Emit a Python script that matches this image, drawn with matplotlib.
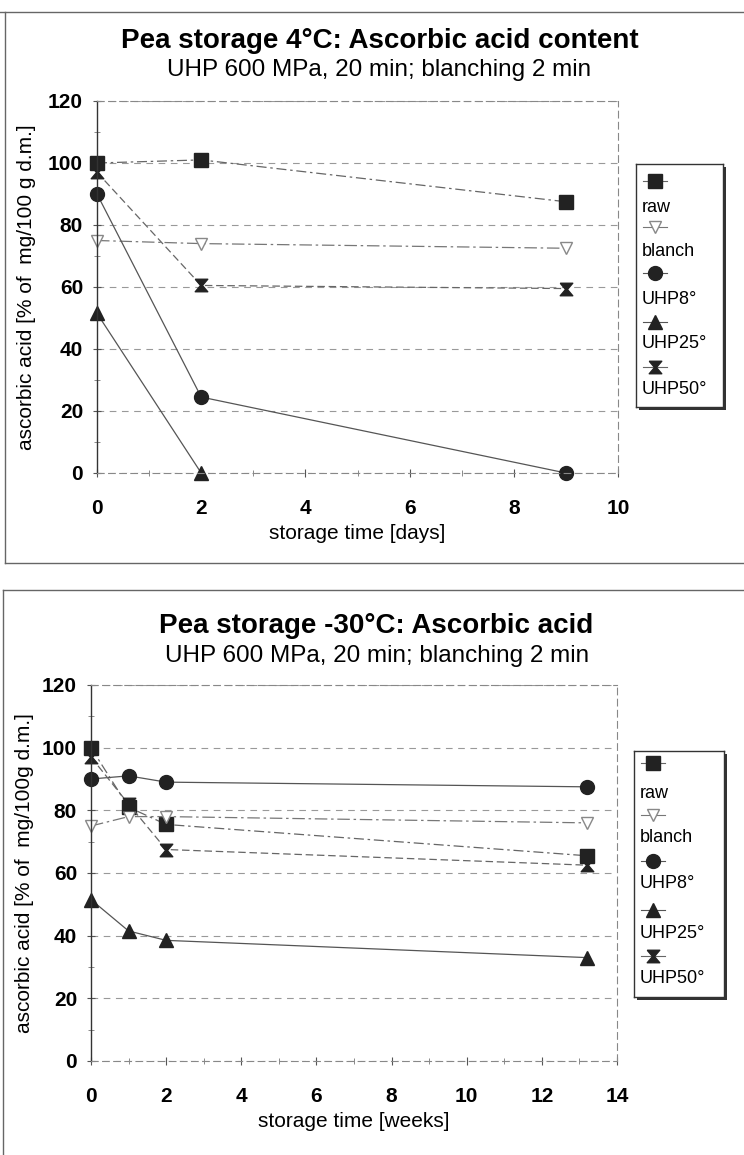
import matplotlib
matplotlib.use('Agg')
import matplotlib.pyplot as plt
from matplotlib.lines import Line2D
from matplotlib.patches import Rectangle
from matplotlib.ticker import MultipleLocator

plt.rcParams['font.family'] = ['Liberation Sans', 'DejaVu Sans']

W, H = 744, 1155

# ---- data: 4 C storage (days)
days = [0, 2, 9]
raw_4 = [100, 101, 87.5]
blanch_4 = [75, 74, 72.5]
uhp8_4 = [90, 24.5, 0]
uhp25_days = [0, 2]
uhp25_4 = [51.5, 0]
uhp50_4 = [97, 60.5, 59.5]

# ---- data: -30 C storage (weeks)
weeks = [0, 1, 2, 13.2]
raw_30 = [100, 81, 75.5, 65.5]
blanch_30 = [75, 78, 78, 76]
uhp8_30 = [90, 91, 89, 87.5]
uhp25_30 = [51.5, 41.5, 38.5, 33]
uhp50_30 = [97, 82, 67.5, 62.5]

series_names = ['raw', 'blanch', 'UHP8°', 'UHP25°', 'UHP50°']

hourglass = [(-1, 1), (1, 1), (0.15, 0), (1, -1), (-1, -1), (-0.15, 0), (-1, 1)]

styles = {
    'raw':    dict(marker='s', ms=9.5, mfc='#222222', mec='#222222', color='#666666', ls=(0, (8, 3, 2, 3))),
    'blanch': dict(marker='v', ms=9, mfc='white', mec='#888888', color='#777777', ls=(0, (10, 3, 2, 3))),
    'UHP8°':  dict(marker='o', ms=10, mfc='#222222', mec='#222222', color='#555555', ls='-'),
    'UHP25°': dict(marker='^', ms=10, mfc='#222222', mec='#222222', color='#555555', ls='-'),
    'UHP50°': dict(marker=hourglass, ms=9, mfc='#222222', mec='#222222', color='#666666', ls=(0, (6, 3))),
}

fig = plt.figure(figsize=(W / 100, H / 100), dpi=100)


def fx(px):
    return px / W


def fy(py):
    return 1 - py / H


def style_axes(ax, xmax, xlabel, ylabel, label_x):
    ax.set_xlim(0, xmax)
    ax.set_ylim(0, 120)
    ax.xaxis.set_major_locator(MultipleLocator(2))
    ax.xaxis.set_minor_locator(MultipleLocator(1))
    ax.yaxis.set_major_locator(MultipleLocator(20))
    ax.yaxis.set_minor_locator(MultipleLocator(10))
    ax.tick_params(which='major', direction='inout', length=6, width=0.8, color='#555555',
                   labelsize=15, pad=7)
    ax.tick_params(axis='x', which='major', pad=16)
    ax.tick_params(which='minor', direction='inout', length=4, width=0.6, color='#777777')
    for lab in ax.get_xticklabels() + ax.get_yticklabels():
        lab.set_fontweight('bold')
    ax.grid(axis='y', which='major', color='#999999', lw=0.8, ls=(0, (6, 5)))
    for s in ['top', 'right', 'bottom']:
        ax.spines[s].set_color('#888888')
        ax.spines[s].set_linestyle((0, (6, 4)))
        ax.spines[s].set_linewidth(0.8)
    ax.spines['left'].set_color('#333333')
    ax.spines['left'].set_linewidth(1.0)
    ax.set_xlabel(xlabel, fontsize=15, labelpad=4)
    ax.set_ylabel(ylabel, fontsize=15)
    ax.yaxis.set_label_coords(label_x, 0.5)


def legend_box(x0, y0, x1, y1, marker_y, text_y):
    # shadow
    fig.patches.append(Rectangle((fx(x0 + 3), fy(y1 + 3)), fx(x1 - x0), (y1 - y0) / H,
                                 transform=fig.transFigure, facecolor='#333333',
                                 edgecolor='none', zorder=1))
    lax = fig.add_axes([fx(x0), fy(y1), fx(x1 - x0), (y1 - y0) / H], zorder=2)
    lax.set_xlim(x0, x1)
    lax.set_ylim(y1, y0)
    lax.set_xticks([])
    lax.set_yticks([])
    for s in lax.spines.values():
        s.set_color('#333333')
        s.set_linewidth(1.0)
    for name, my, ty in zip(series_names, marker_y, text_y):
        st = dict(styles[name])
        st['ls'] = '-'
        lax.plot([x0 + 7, x0 + 19, x0 + 31], [my, my, my], markevery=[1], lw=0.8, **st)
        lax.text(x0 + 6, ty, name, fontsize=13, va='center', ha='left')


def frame_line(xs, ys):
    fig.lines.append(Line2D([fx(x) for x in xs], [fy(y) for y in ys], transform=fig.transFigure,
                            color='#666666', lw=1.0))


# ---- top chart
frame_line([0, 744], [12, 12])
frame_line([5, 5], [12, 563])
frame_line([5, 744], [563, 563])
fig.text(fx(380), fy(41), 'Pea storage 4°C: Ascorbic acid content', fontsize=20,
         fontweight='bold', ha='center', va='center')
fig.text(fx(379), fy(70), 'UHP 600 MPa, 20 min; blanching 2 min', fontsize=17.5,
         ha='center', va='center')

ax1 = fig.add_axes([fx(97), fy(473), fx(618 - 97), (473 - 101) / H])
ax1.plot(days, raw_4, lw=0.9, **styles['raw'])
ax1.plot(days, blanch_4, lw=0.9, **styles['blanch'])
ax1.plot(days, uhp8_4, lw=0.9, **styles['UHP8°'])
ax1.plot(uhp25_days, uhp25_4, lw=0.9, **styles['UHP25°'])
ax1.plot(days, uhp50_4, lw=0.9, **styles['UHP50°'])
for ln in ax1.lines:
    ln.set_clip_on(False)
style_axes(ax1, 10, 'storage time [days]', 'ascorbic acid [% of  mg/100 g d.m.]',
           (36 - 97) / 521)

legend_box(636, 164, 723, 407,
           [181, 227, 273, 322, 367], [207, 252, 299, 343, 390])

# ---- bottom chart
frame_line([3, 744], [590, 590])
frame_line([3, 3], [590, 1155])
fig.text(fx(376), fy(626), 'Pea storage -30°C: Ascorbic acid', fontsize=20,
         fontweight='bold', ha='center', va='center')
fig.text(fx(377), fy(656), 'UHP 600 MPa, 20 min; blanching 2 min', fontsize=17.5,
         ha='center', va='center')

ax2 = fig.add_axes([fx(91), fy(1061), fx(617 - 91), (1061 - 685) / H])
ax2.plot(weeks, raw_30, lw=0.9, **styles['raw'])
ax2.plot(weeks, blanch_30, lw=0.9, **styles['blanch'])
ax2.plot(weeks, uhp8_30, lw=0.9, **styles['UHP8°'])
ax2.plot(weeks, uhp25_30, lw=0.9, **styles['UHP25°'])
ax2.plot(weeks, uhp50_30, lw=0.9, **styles['UHP50°'])
for ln in ax2.lines:
    ln.set_clip_on(False)
style_axes(ax2, 14, 'storage time [weeks]', 'ascorbic acid [% of  mg/100g d.m.]',
           (34 - 91) / 526)

legend_box(634, 751, 724, 997,
           [763, 815, 861, 910, 956], [794, 838, 884, 934, 979])

fig.savefig('out.png', dpi=100)
